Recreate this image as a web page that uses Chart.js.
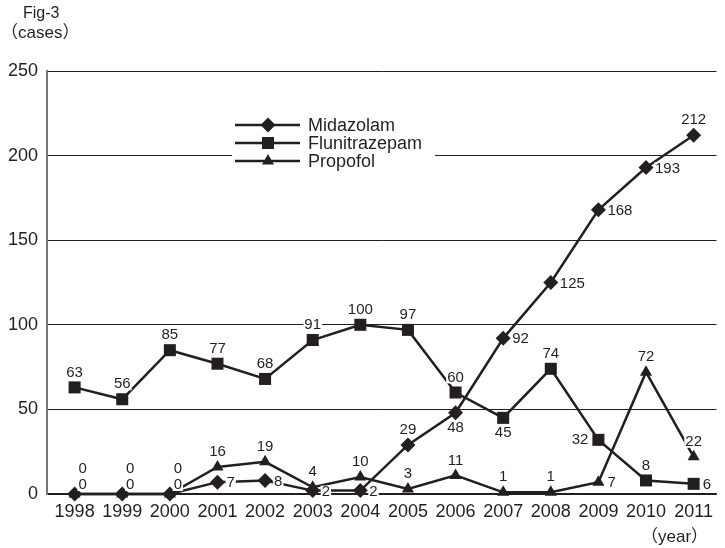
<!DOCTYPE html>
<html>
<head>
<meta charset="utf-8">
<script src="https://cdn.jsdelivr.net/npm/chart.js@4.4.0/dist/chart.umd.min.js"></script>
<style>
  html, body { margin: 0; padding: 0; background: #fff; }
</style>
</head>
<body>
<canvas id="myChart" width="725" height="548"></canvas>
<script>
const years = [1998, 1999, 2000, 2001, 2002, 2003, 2004, 2005, 2006, 2007, 2008, 2009, 2010, 2011]
const midazolam = [0, 0, 0, 7, 8, 2, 2, 29, 48, 92, 125, 168, 193, 212]
const flunitrazepam = [63, 56, 85, 77, 68, 91, 100, 97, 60, 45, 74, 32, 8, 6]
const propofol = [0, 0, 0, 16, 19, 4, 10, 3, 11, 1, 1, 7, 72, 22]
const yTicks = [0, 50, 100, 150, 200, 250]

const ink = '#231f20'
const font = '"Liberation Sans", Arial, "Noto Sans CJK JP", sans-serif'

// where each value label sits relative to its point
const labelSpots = [
    ['zr', 'zr', 'zr', 'r', 'r', 'r', 'r', 'a', 'b', 'r', 'r', 'r', 'r', 'a'],
    ['a', 'a', 'a', 'a', 'a', 'a', 'a', 'a', 'a', 'b', 'a', 'l', 'a', 'r'],
    ['za', 'za', 'za', 'a', 'a', 'a', 'a', 'a', 'a', 'a', 'a', 'r', 'a', 'a']
]

function toPoints(values) {
    return values.map((v, i) => ({x: years[i], y: v}))
}

function drawMarker(ctx, style, x, y, r) {
    ctx.beginPath()
    if (style === 'rectRot') {
        ctx.moveTo(x, y - r); ctx.lineTo(x + r, y); ctx.lineTo(x, y + r); ctx.lineTo(x - r, y)
    } else if (style === 'rect') {
        const s = r * Math.SQRT1_2
        ctx.rect(x - s, y - s, 2 * s, 2 * s)
    } else {
        ctx.moveTo(x, y - r); ctx.lineTo(x + r * 0.866, y + r * 0.5); ctx.lineTo(x - r * 0.866, y + r * 0.5)
    }
    ctx.closePath()
    ctx.fill()
}

const extras = {
    id: 'extras',
    afterDatasetsDraw(chart) {
        const ctx = chart.ctx
        ctx.save()
        // value labels
        ctx.font = '15px ' + font
        ctx.textBaseline = 'middle'
        chart.data.datasets.forEach((ds, di) => {
            const meta = chart.getDatasetMeta(di)
            meta.data.forEach((pt, i) => {
                const txt = String(ds.data[i].y)
                const spot = labelSpots[di][i]
                const w = ctx.measureText(txt).width
                let x = pt.x, y = pt.y
                if (spot === 'a') { x -= w / 2; y -= 15 }
                else if (spot === 'b') { x -= w / 2; y += 15 }
                else if (spot === 'r') { x += 9; y += 1 }
                else if (spot === 'l') { x -= 10 + w }
                else if (spot === 'zr') { x += 8 - w / 2; y -= 9 }
                else if (spot === 'za') { x += 8 - w / 2; y -= 25 }
                ctx.fillStyle = '#fff'
                ctx.fillRect(x - 1, y - 6, w + 2, 12)
                ctx.fillStyle = ink
                ctx.textAlign = 'left'
                ctx.fillText(txt, x, y)
            })
        })

        // legend inside the plot
        ctx.fillStyle = '#fff'
        ctx.fillRect(232, 114, 203, 56)
        ctx.font = '18px ' + font
        chart.data.datasets.forEach((ds, di) => {
            const y = 125 + di * 18
            ctx.strokeStyle = ink
            ctx.lineWidth = 2.5
            ctx.beginPath()
            ctx.moveTo(235, y)
            ctx.lineTo(300, y)
            ctx.stroke()
            ctx.fillStyle = ink
            drawMarker(ctx, ds.pointStyle, 268, y, ds.pointRadius)
            ctx.textAlign = 'left'
            ctx.fillText(ds.label, 308, y + 1)
        })

        // axis captions
        ctx.fillStyle = ink
        ctx.font = '16px ' + font
        ctx.fillText('Fig-3', 23, 14)
        ctx.font = '17px ' + font
        ctx.fillText('（cases）', 1, 33)
        ctx.fillText('（year）', 641, 537)
        ctx.restore()
    }
}

const ctx = document.getElementById('myChart').getContext('2d')
const chart = new Chart(ctx, {
    type: 'line',
    data: {
        datasets: [
            {label: 'Midazolam', data: toPoints(midazolam), pointStyle: 'rectRot', pointRadius: 7.5},
            {label: 'Flunitrazepam', data: toPoints(flunitrazepam), pointStyle: 'rect', pointRadius: 8.5},
            {label: 'Propofol', data: toPoints(propofol), pointStyle: 'triangle', pointRadius: 7}
        ].map(d => Object.assign(d, {
            borderColor: ink,
            backgroundColor: ink,
            pointBackgroundColor: ink,
            pointBorderColor: ink,
            pointBorderWidth: 0,
            borderWidth: 2.5,
            tension: 0,
            fill: false,
            clip: false
        }))
    },
    options: {
        responsive: false,
        animation: false,
        devicePixelRatio: 1,
        layout: {padding: {top: 71, left: 0, right: 0, bottom: 0}},
        plugins: {legend: {display: false}, tooltip: {enabled: false}},
        scales: {
            x: {
                type: 'linear',
                min: 1997.42,
                max: 2011.48,
                afterBuildTicks: s => { s.ticks = years.map(v => ({value: v})) },
                afterFit: s => { s.height = 54 },
                grid: {display: false, drawTicks: false},
                border: {display: true, color: ink, width: 1.5},
                ticks: {
                    color: ink,
                    font: {family: font, size: 18},
                    padding: 7,
                    maxRotation: 0,
                    autoSkip: false,
                    callback: v => String(v)
                }
            },
            y: {
                min: 0,
                max: 250,
                afterBuildTicks: s => { s.ticks = yTicks.map(v => ({value: v})) },
                afterFit: s => { s.width = 47 },
                grid: {color: ink, lineWidth: 1, drawTicks: false},
                border: {display: true, color: '#777', width: 2},
                ticks: {
                    color: ink,
                    font: {family: font, size: 18},
                    padding: 9,
                    callback: v => String(v)
                }
            }
        }
    },
    plugins: [extras]
})
</script>
</body>
</html>
